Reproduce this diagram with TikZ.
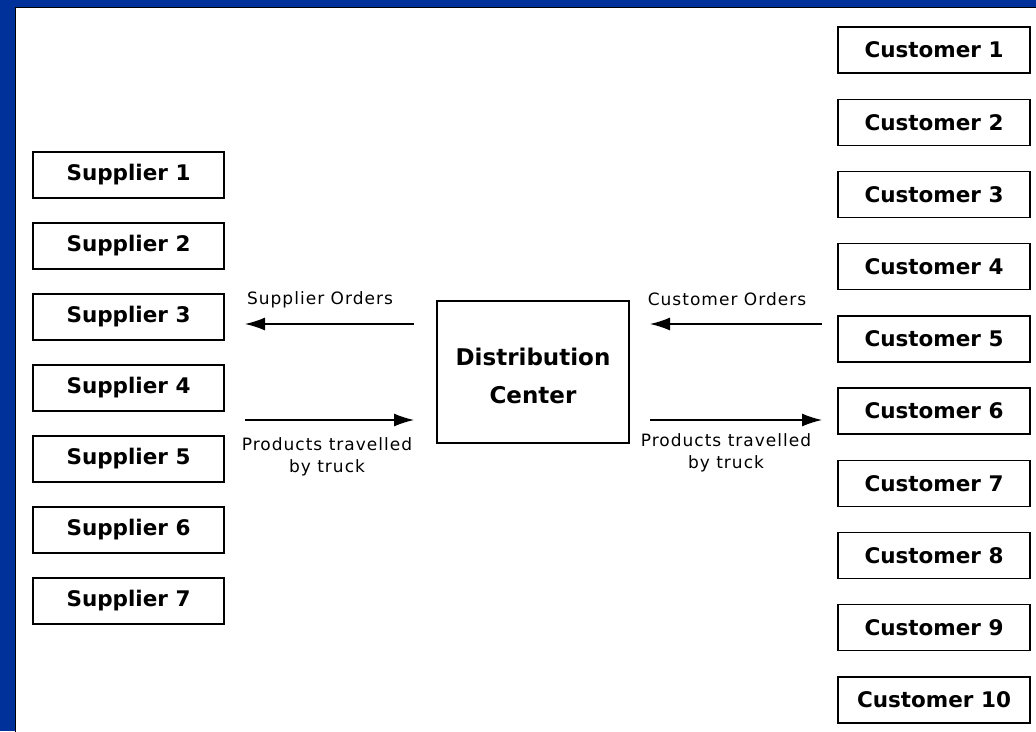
\documentclass[tikz,border=0pt]{standalone}
\usepackage{fontspec}
\setmainfont{DejaVu Sans}
\newfontfamily\labelfont{DejaVu Sans}[LetterSpace=6]
\usetikzlibrary{arrows.meta}
\definecolor{frameblue}{RGB}{0,48,154}
\begin{document}
\begin{tikzpicture}[
  x=1pt, y=-1pt,
  party/.style={draw, line width=1.4pt, minimum width=191pt, minimum height=46pt,
    inner sep=0pt, font=\fontsize{21.5}{24}\selectfont\bfseries},
  hub/.style={draw, line width=1.4pt, minimum width=192pt, minimum height=142pt,
    align=center, font=\fontsize{23}{38}\selectfont\bfseries},
  flowlabel/.style={align=center, font=\labelfont\fontsize{17}{22}\selectfont},
  flow/.style={line width=1.4pt, -{Latex[length=20pt,width=13pt]}}
]
\useasboundingbox (0,0) rectangle (1036,731);
% frame
\fill[frameblue] (0,0) rectangle (1036,731);
\fill[white, draw=black, line width=0.8pt] (15,7) rectangle (1040,735);

% suppliers
\foreach \i in {1,...,7}
  \node[party] (sup\i) at (128.5, 175+71*\i-71) {Supplier \i};

% customers
\foreach \i in {1,...,10}
  \node[party, minimum width=192pt] (cust\i) at (934, 50+72.2*\i-72.2) {Customer \i};

\node[hub] (dc) at (533,372) {};
\node[align=center, font=\fontsize{23}{38}\selectfont\bfseries] (dc-txt) at (533,376) {Distribution\\Center};

% flows
\coordinate (so-a) at (414,324);
\coordinate (so-b) at (245,324);
\coordinate (sp-a) at (245,420);
\coordinate (sp-b) at (414,420);
\coordinate (co-a) at (822,324);
\coordinate (co-b) at (650,324);
\coordinate (cp-a) at (650,420);
\coordinate (cp-b) at (822,420);

\draw[flow] (so-a) -- (so-b);
\draw[flow] (sp-a) -- (sp-b);
\draw[flow] (co-a) -- (co-b);
\draw[flow] (cp-a) -- (cp-b);

\node[flowlabel] (so-lbl) at (320,300) {Supplier Orders};
\node[flowlabel] (sp-lbl) at (327,457) {Products travelled\\by truck};
\node[flowlabel] (co-lbl) at (727,299) {Customer Orders};
\node[flowlabel] (cp-lbl) at (726,453) {Products travelled\\by truck};
\end{tikzpicture}
\end{document}
